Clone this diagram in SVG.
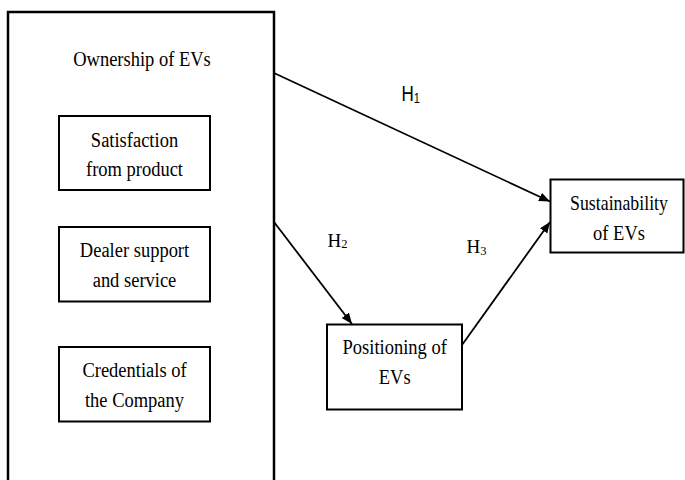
<svg xmlns="http://www.w3.org/2000/svg" width="685" height="480" viewBox="0 0 685 480">
<style>
.box{fill:#fff;stroke:#000;stroke-width:2}
.big{fill:#fff;stroke:#000;stroke-width:2.5}
.t{font-family:"Liberation Serif","Times New Roman",serif;font-size:18.5px;fill:#000;text-anchor:middle}
.h{font-family:"Liberation Serif","Times New Roman",serif;font-size:19px;fill:#000}
.hs{font-family:"Liberation Sans",Arial,sans-serif;font-size:17px;fill:#000}
.sub{font-size:12.5px}
.c{fill:none;stroke:#000;stroke-width:1.8}
</style>
<defs>
<marker id="arr" markerUnits="userSpaceOnUse" markerWidth="12" markerHeight="10" refX="11" refY="4.5" orient="auto">
<path d="M0,0 L11,4.5 L0,9 z" fill="#000"/>
</marker>
</defs>
<rect width="685" height="480" fill="#fff"/>
<g id="ownership">
<rect class="big" x="8" y="12" width="266" height="480"/>
<text class="t" transform="translate(142,65.5) scale(1,1.18)">Ownership of EVs</text>
</g>
<g id="satisfaction">
<rect class="box" x="59" y="116" width="151" height="74"/>
<text class="t" transform="translate(134.5,146.5) scale(1,1.18)"><tspan x="0" y="0">Satisfaction</tspan><tspan x="0" y="25.2">from product</tspan></text>
</g>
<g id="dealer">
<rect class="box" x="59" y="227" width="151" height="74.5"/>
<text class="t" transform="translate(134.5,257) scale(1,1.18)"><tspan x="0" y="0">Dealer support</tspan><tspan x="0" y="25.2">and service</tspan></text>
</g>
<g id="credentials">
<rect class="box" x="59" y="347" width="151" height="74.5"/>
<text class="t" transform="translate(134.5,376.7) scale(1,1.18)"><tspan x="0" y="0">Credentials of</tspan><tspan x="0" y="25.4">the Company</tspan></text>
</g>
<g id="sustainability">
<rect class="box" x="550.5" y="179.5" width="133" height="73"/>
<text class="t" transform="translate(619,210) scale(1,1.18)"><tspan x="0" y="0" style="font-size:17.8px">Sustainability</tspan><tspan x="0" y="25.4">of EVs</tspan></text>
</g>
<g id="positioning">
<rect class="box" x="327" y="324.5" width="135" height="85"/>
<text class="t" transform="translate(394.7,354.3) scale(1,1.18)"><tspan x="0" y="0">Positioning of</tspan><tspan x="0" y="25.4">EVs</tspan></text>
</g>
<g id="connectors">
<line class="c" x1="274" y1="73" x2="550" y2="201.5" marker-end="url(#arr)"/>
<line class="c" x1="274" y1="222" x2="352" y2="324" marker-end="url(#arr)"/>
<line class="c" x1="462" y1="345" x2="550" y2="222" marker-end="url(#arr)"/>
</g>
<g id="labels">
<text class="hs" transform="translate(401.5,100.7) scale(1,1.28)">H<tspan class="sub" style="font-size:11px" dy="1.8">1</tspan></text>
<text class="h" x="327.5" y="246.7">H<tspan class="sub" dy="1">2</tspan></text>
<text class="h" x="466.5" y="253">H<tspan class="sub" dy="1.5">3</tspan></text>
</g>
</svg>
